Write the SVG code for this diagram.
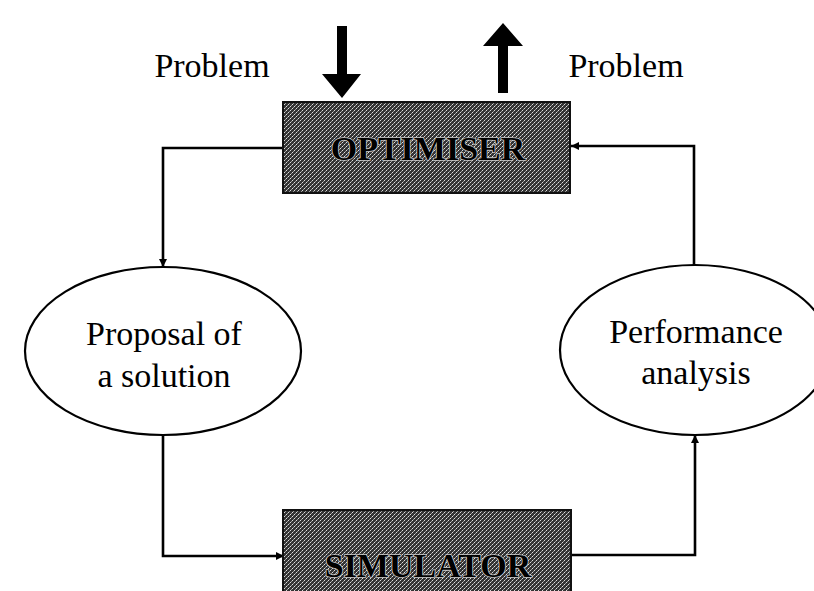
<svg xmlns="http://www.w3.org/2000/svg" width="814" height="591" viewBox="0 0 814 591">
<style>
  .lbl { font-family: "Liberation Serif", "Times New Roman", serif; font-size: 34px; fill: #000; text-anchor: middle; }
  .box-lbl { font-family: "Liberation Serif", "Times New Roman", serif; font-size: 34px; font-weight: bold; fill: #000; text-anchor: middle; stroke: #c8c8c8; stroke-width: 1.6; paint-order: stroke; }
  .box { fill: url(#dither); stroke: #111; stroke-width: 2; }
  .ell { fill: #fff; stroke: #000; stroke-width: 2.2; }
  .conn { fill: none; stroke: #000; stroke-width: 2.6; marker-end: url(#ah); }
  .big { fill: #000; }
</style>
<defs>
  <pattern id="dither" patternUnits="userSpaceOnUse" width="4" height="4">
    <rect width="4" height="4" fill="#333"/>
    <rect x="0" y="0" width="1" height="1" fill="#ddd"/>
    <rect x="2" y="2" width="1" height="1" fill="#ddd"/>
    <rect x="1" y="3" width="1" height="1" fill="#999"/>
    <rect x="3" y="1" width="1" height="1" fill="#999"/>
  </pattern>
  <marker id="ah" viewBox="0 0 10 10" refX="10" refY="5" markerWidth="3.2" markerHeight="3.2" orient="auto" markerUnits="strokeWidth">
    <path d="M0,0 L10,5 L0,10 Z" fill="#000"/>
  </marker>
</defs>
<rect width="814" height="591" fill="#fff"/>

<g id="connectors">
  <polyline class="conn" points="283,148 163,148 163,267"/>
  <polyline class="conn" points="163,435 163,556 284,556"/>
  <polyline class="conn" points="571,555 695,555 695,435"/>
  <polyline class="conn" points="694,265 694,146 571,146"/>
  <path id="input-arrow" class="big" d="M337,26 H347 V74 H361 L342,98 L322,74 H337 Z"/>
  <path id="output-arrow" class="big" d="M498,93 V46 H483 L503,23 L523,46 H508 V93 Z"/>
</g>

<g id="label-problem-in">
  <text class="lbl" x="212" y="77">Problem</text>
</g>
<g id="label-problem-out">
  <text class="lbl" x="626" y="77">Problem</text>
</g>

<g id="optimiser">
  <rect class="box" x="283" y="102" width="287" height="91"/>
  <text class="box-lbl" x="428" y="160">OPTIMISER</text>
</g>

<g id="proposal">
  <ellipse class="ell" cx="163" cy="351" rx="138" ry="84"/>
  <text class="lbl" x="164" y="345">Proposal of</text>
  <text class="lbl" x="164" y="387">a solution</text>
</g>

<g id="performance">
  <ellipse class="ell" cx="695" cy="350" rx="135" ry="85"/>
  <text class="lbl" x="696" y="343">Performance</text>
  <text class="lbl" x="696" y="384">analysis</text>
</g>

<g id="simulator">
  <rect class="box" x="283" y="510" width="288" height="90"/>
  <text class="box-lbl" x="428" y="577">SIMULATOR</text>
</g>
</svg>
